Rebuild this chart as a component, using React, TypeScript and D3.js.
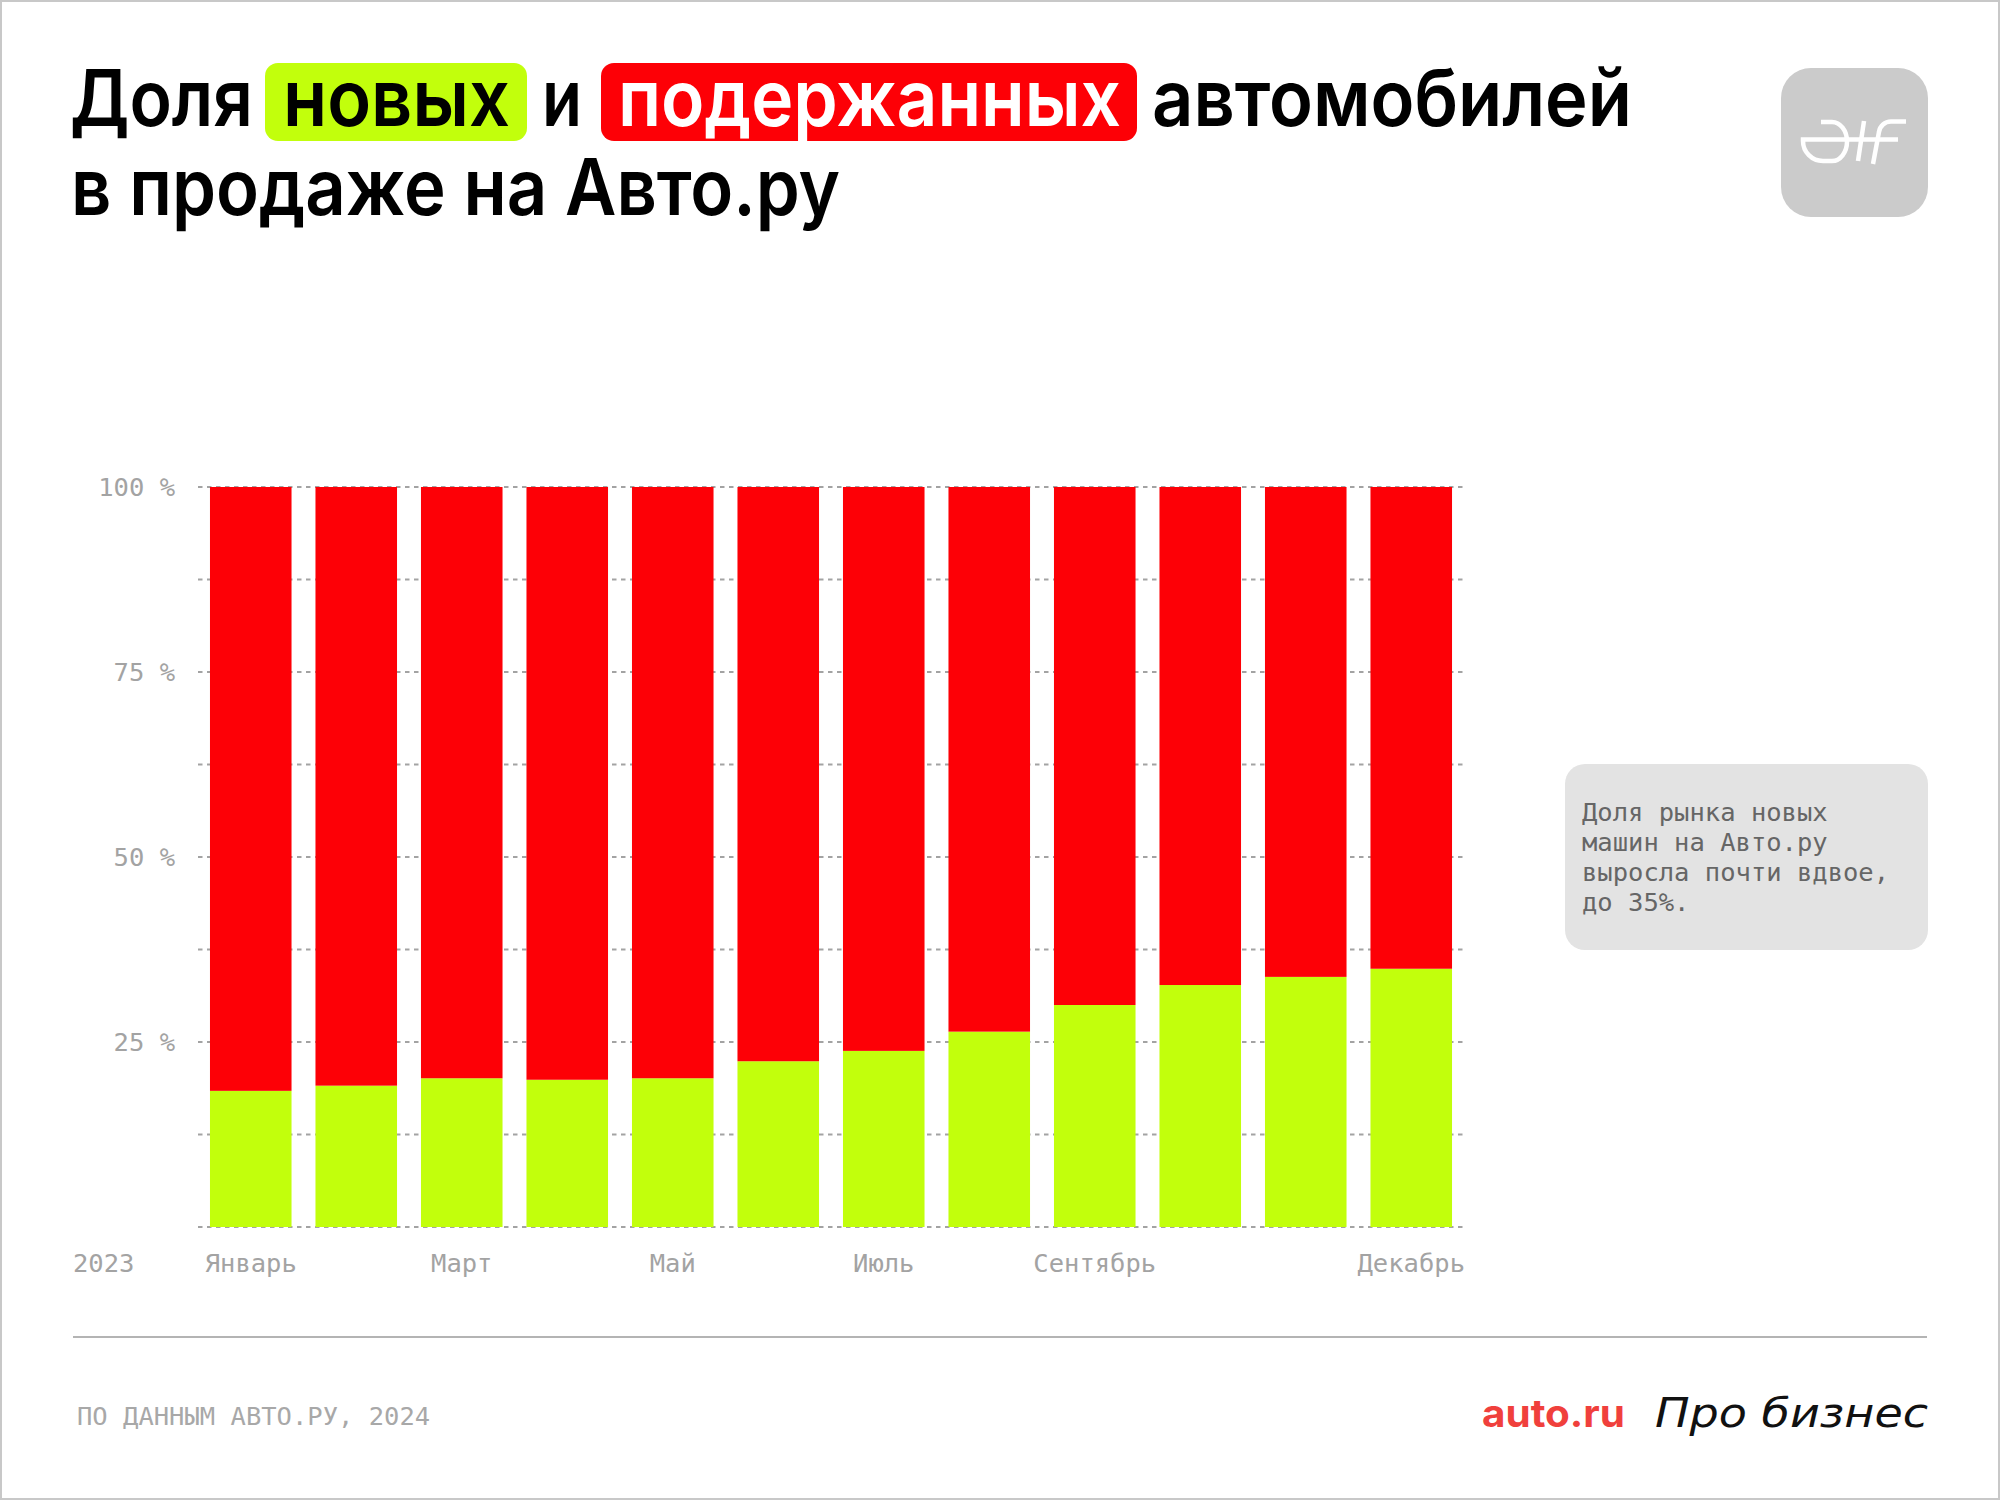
import React from "react";
import * as d3 from "d3";

const months = ["Январь", "Февраль", "Март", "Апрель", "Май", "Июнь", "Июль", "Август", "Сентябрь", "Октябрь", "Ноябрь", "Декабрь"];
const newShare = [18.4, 19.1, 20.1, 19.9, 20.1, 22.4, 23.8, 26.4, 30.0, 32.7, 33.8, 34.9];
const usedShare = [81.6, 80.9, 79.9, 80.1, 79.9, 77.6, 76.2, 73.6, 70.0, 67.3, 66.2, 65.1];
const labeledMonths = ["Январь", "Март", "Май", "Июль", "Сентябрь", "Декабрь"];
const gridValues = [0, 12.5, 25, 37.5, 50, 62.5, 75, 87.5, 100];
const yLabelValues = [25, 50, 75, 100];
const yearLabel = "2023";
const noteLines = ["Доля рынка новых", "машин на Авто.ру", "выросла почти вдвое,", "до 35%."];
const sourceText = "ПО ДАННЫМ АВТО.РУ, 2024";

const RED = "#fd0006";
const GREEN = "#c2ff0c";
const MONO = "'DejaVu Sans Mono', 'Liberation Mono', monospace";
const SANS = "Inter, 'Noto Sans', sans-serif";

export default function App() {
  const W = 2000, H = 1500;
  const x = d3.scaleBand<string>().domain(months).range([198, 1464]).paddingInner(0.227).paddingOuter(0.1135);
  const y = d3.scaleLinear().domain([0, 100]).range([1227, 487]);

  const rows = months.map((m, i) => ({ month: m, newCars: newShare[i], used: usedShare[i] }));
  const stack = d3.stack<any>().keys(["newCars", "used"]);
  const series = stack(rows);
  const colors: Record<string, string> = { newCars: GREEN, used: RED };

  return (
    <svg width={W} height={H} style={{ position: "absolute", left: 0, top: 0, background: "#fff" }}>
      <rect x={0} y={0} width={W} height={H} fill="#fff" />
      <rect x={1} y={1} width={W - 2} height={H - 2} fill="none" stroke="#c8c8c8" strokeWidth={2} />

      {/* Title */}
      <g fontFamily={SANS} fontWeight={600} fontSize={78}>
        <text x={70} y={126} fill="#000" textLength={183} lengthAdjust="spacingAndGlyphs">Доля</text>
        <rect x={265} y={63} width={262} height={78} rx={13} fill={GREEN} />
        <text x={283} y={126} fill="#000" textLength={227} lengthAdjust="spacingAndGlyphs">новых</text>
        <text x={542} y={126} fill="#000" textLength={40} lengthAdjust="spacingAndGlyphs">и</text>
        <rect x={601} y={63} width={536} height={78} rx={13} fill={RED} />
        <text x={618} y={126} fill="#fff" textLength={503} lengthAdjust="spacingAndGlyphs">подержанных</text>
        <text x={1152} y={126} fill="#000" textLength={480} lengthAdjust="spacingAndGlyphs">автомобилей</text>
        <text x={71} y={215} fill="#000" textLength={769} lengthAdjust="spacingAndGlyphs">в продаже на Авто.ру</text>
      </g>

      {/* AIF logo */}
      <rect x={1781} y={68} width={147} height={149} rx={30} fill="#cbcbcb" />
      <g fill="none" stroke="#fff" strokeWidth={4.5}>
        <path d="M1821,122 H1832 A15,19.5 0 0 1 1832,161 H1823 A20,20 0 0 1 1803,141 V139.5 H1898" />
        <path d="M1858,161 L1864,121" />
        <path d="M1873,164 L1879,132 A12,12 0 0 1 1891,121.5 H1906" />
      </g>

      {/* grid */}
      <g>
        {gridValues.map((v) => (
          <line key={v} x1={198} x2={1464} y1={y(v)} y2={y(v)} stroke="#a3a3a3" strokeWidth={2} strokeDasharray="4.5 4.5" />
        ))}
      </g>

      {/* bars */}
      <g>
        {series.map((s) =>
          s.map((d, i) => (
            <rect
              key={s.key + i}
              x={x(months[i])}
              y={y(d[1])}
              width={x.bandwidth()}
              height={y(d[0]) - y(d[1])}
              fill={colors[s.key]}
            />
          ))
        )}
      </g>

      {/* y labels */}
      <g fontFamily={MONO} fontSize={25.5} fill="#a3a3a3" textAnchor="end">
        {yLabelValues.map((v) => (
          <text key={v} x={175} y={y(v) + 9}>{`${v} %`}</text>
        ))}
      </g>

      {/* x labels */}
      <g fontFamily={MONO} fontSize={25.5} fill="#a3a3a3">
        <text x={73} y={1272}>{yearLabel}</text>
        {labeledMonths.map((m) => (
          <text key={m} x={(x(m) as number) + x.bandwidth() / 2} y={1272} textAnchor="middle">{m}</text>
        ))}
      </g>

      {/* note */}
      <rect x={1565} y={764} width={363} height={186} rx={20} fill="#e3e3e3" />
      <g fontFamily={MONO} fontSize={25.5} fill="#666">
        {noteLines.map((l, i) => (
          <text key={i} x={1582} y={821 + i * 30}>{l}</text>
        ))}
      </g>

      {/* footer */}
      <line x1={73} x2={1927} y1={1337} y2={1337} stroke="#b4b4b4" strokeWidth={2} />
      <text x={77} y={1425} fontFamily={MONO} fontSize={25.5} fill="#a8a8a8">{sourceText}</text>
      <text x={1482} y={1427} fontFamily={SANS} fontWeight={700} fontSize={38} fill="#f0403c" textLength={143} lengthAdjust="spacingAndGlyphs">auto.ru</text>
      <text x={1655} y={1427} fontFamily="'DejaVu Sans', sans-serif" fontStyle="italic" fontSize={40} fill="#111" textLength={273} lengthAdjust="spacingAndGlyphs">Про бизнес</text>
    </svg>
  );
}
